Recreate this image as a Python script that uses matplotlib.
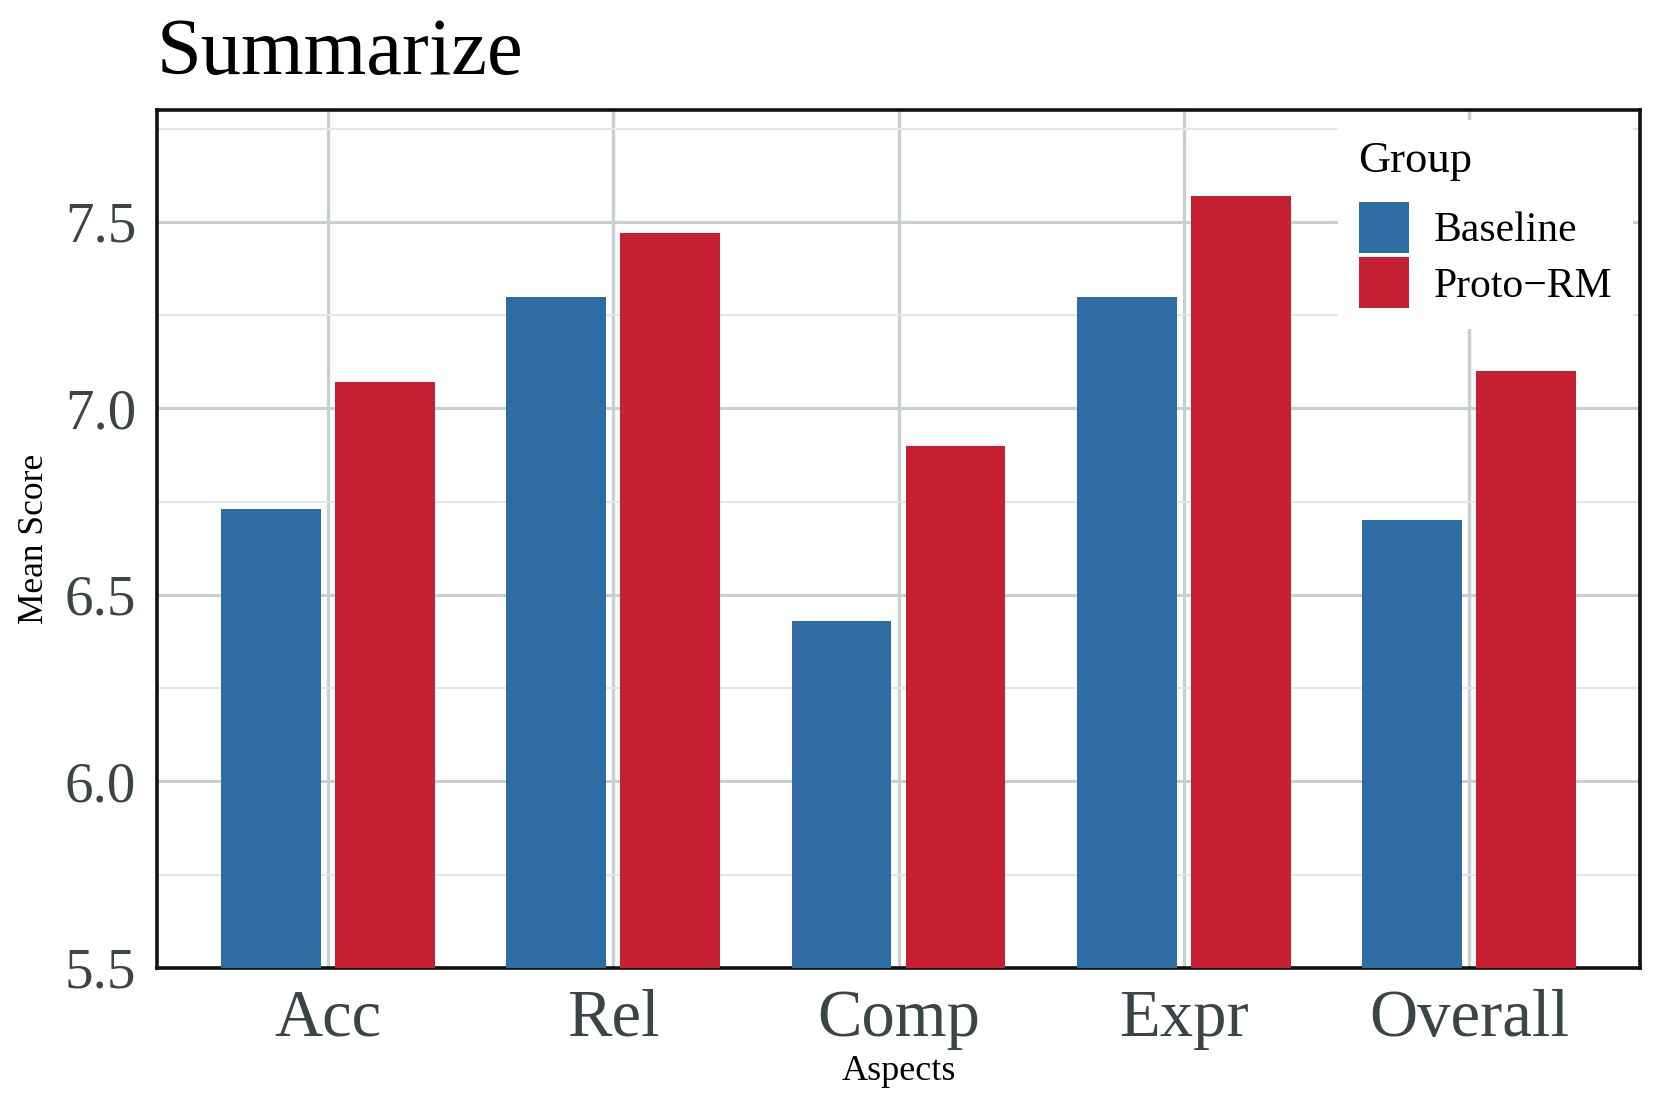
import numpy as np
import matplotlib
matplotlib.use("Agg")
import matplotlib.pyplot as plt
from matplotlib.ticker import MultipleLocator, FormatStrFormatter

plt.rcParams["font.family"] = ["Liberation Serif", "DejaVu Serif"]

aspects = ["Acc", "Rel", "Comp", "Expr", "Overall"]
baseline = [6.73, 7.30, 6.43, 7.30, 6.70]
proto_rm = [7.07, 7.47, 6.90, 7.57, 7.10]
groups = ["Baseline", "Proto\u2212RM"]
colors = ["#2F6CA3", "#C82033"]

grid_major = "#C7CFCF"
grid_minor = "#E2E6E6"
tick_color = "#3B4547"

fig = plt.figure(figsize=(16.6, 11.07), dpi=100)
ax = fig.add_axes([157 / 1660, 1 - 968 / 1107, (1640 - 157) / 1660, (968 - 110) / 1107])

x = np.arange(len(aspects))
w = 0.35
ax.bar(x - 0.2, baseline, width=w, color=colors[0], label=groups[0], zorder=3)
ax.bar(x + 0.2, proto_rm, width=w, color=colors[1], label=groups[1], zorder=3)

ax.set_xlim(-0.6, len(aspects) - 0.4)
ax.set_ylim(5.5, 7.8)
ax.set_xticks(x)
ax.set_xticklabels(aspects)
ax.yaxis.set_major_locator(MultipleLocator(0.5))
ax.yaxis.set_minor_locator(MultipleLocator(0.25))
ax.yaxis.set_major_formatter(FormatStrFormatter("%.1f"))

ax.set_axisbelow(True)
ax.grid(axis="y", which="major", color=grid_major, linewidth=2.2)
ax.grid(axis="y", which="minor", color=grid_minor, linewidth=1.5)
ax.grid(axis="x", which="major", color=grid_major, linewidth=2.4)

ax.tick_params(axis="both", which="both", length=0)
ax.tick_params(axis="y", labelsize=41, colors=tick_color, pad=15)
ax.tick_params(axis="x", labelsize=48, colors=tick_color, pad=15)

for s in ax.spines.values():
    s.set_linewidth(2.6)
    s.set_color("#111111")

ax.set_xlabel("Aspects", fontsize=26, labelpad=4)
ax.set_ylabel("Mean Score", fontsize=25.5, labelpad=10)

fig.text(157 / 1660, 1 - 74 / 1107, "Summarize", fontsize=58, ha="left", va="baseline")

leg = ax.legend(title="Group", loc="upper right", bbox_to_anchor=(0.9953, 0.988),
                fontsize=30, title_fontsize=32, frameon=True, fancybox=False,
                facecolor="white", edgecolor="none", framealpha=1,
                handlelength=1.2, handleheight=1.506, labelspacing=0.105,
                handletextpad=0.6, borderpad=0.5, borderaxespad=0,
                alignment="left")
leg._legend_box.sep = 15
leg.set_zorder(5)

fig.savefig("out.png", dpi=100)
